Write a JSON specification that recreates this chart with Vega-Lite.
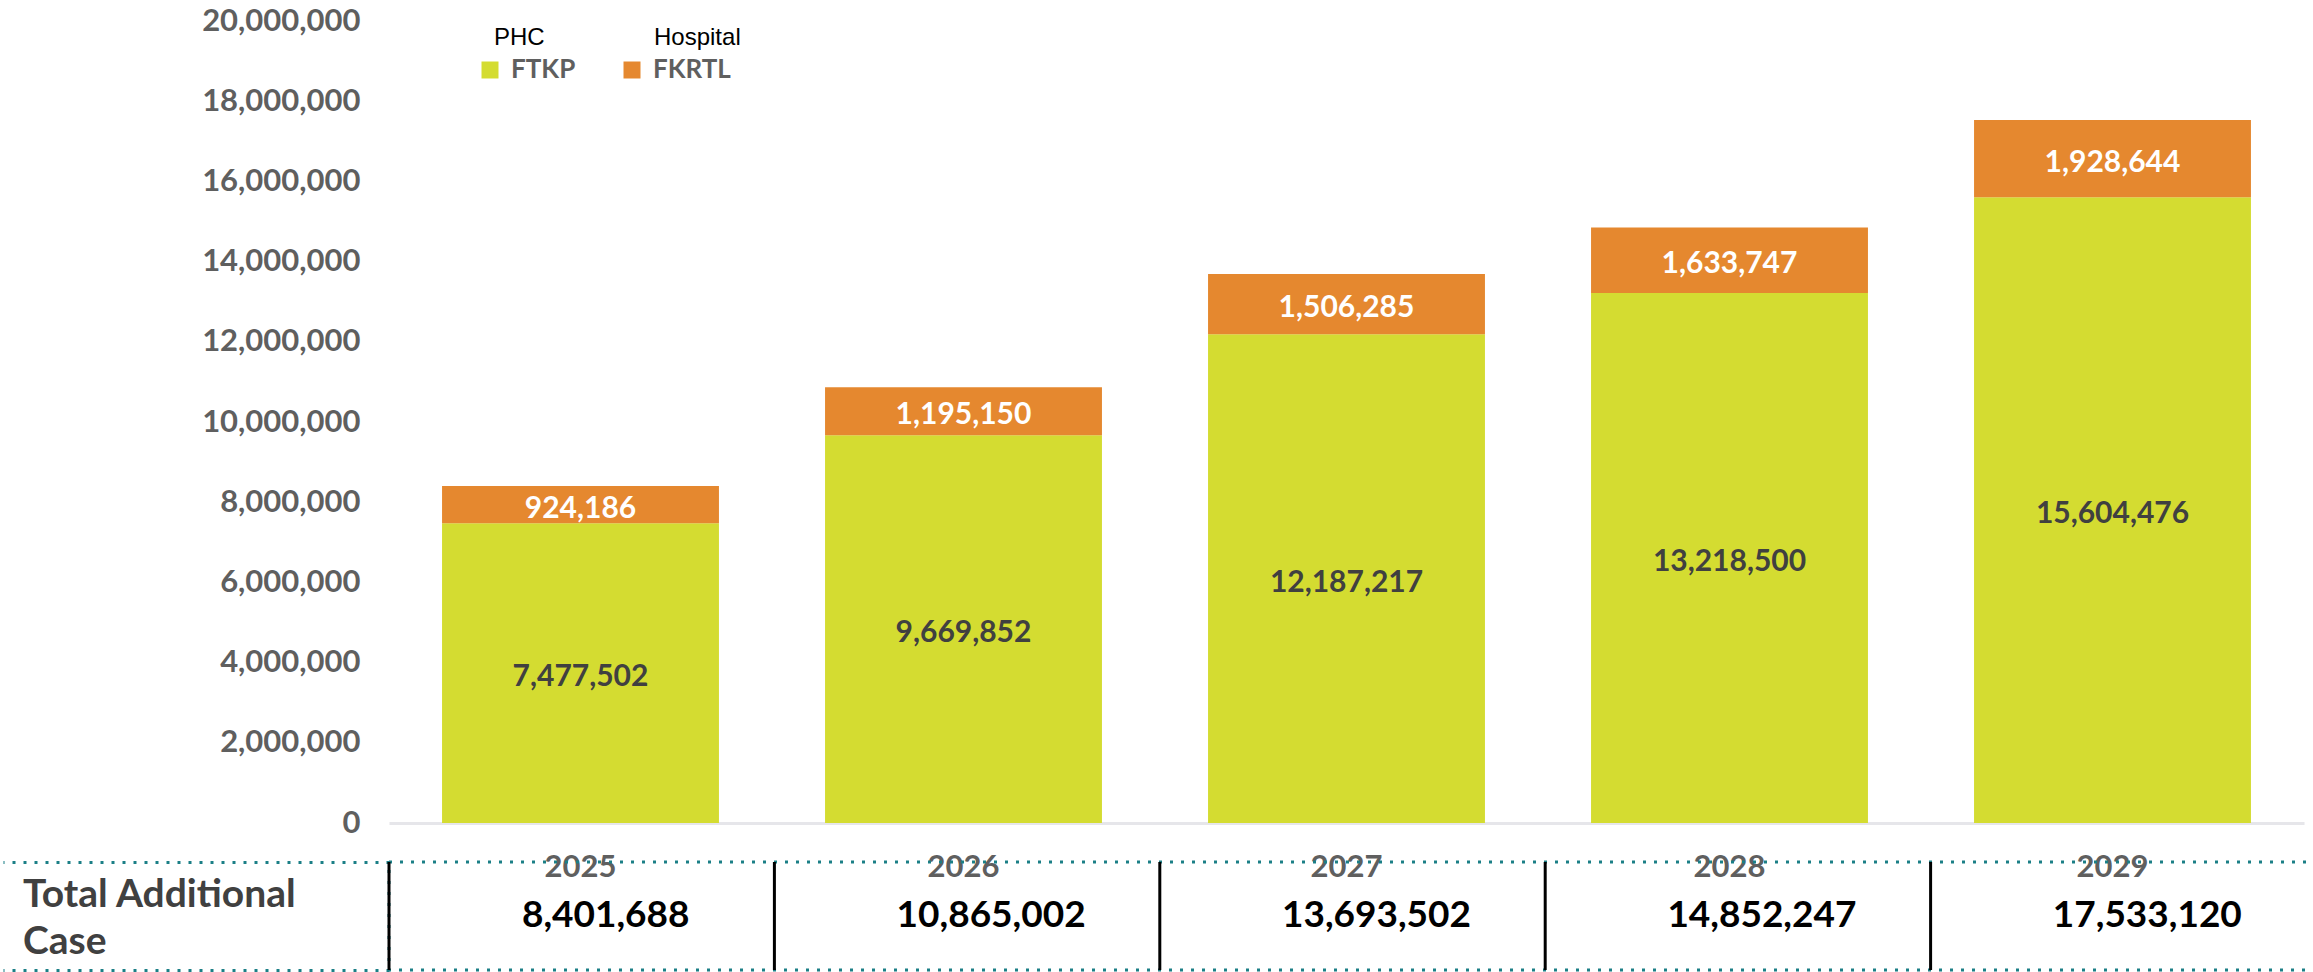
{
  "$schema": "https://vega.github.io/schema/vega-lite/v6.json",
  "padding": {"top": 5, "left": 0, "right": 0, "bottom": 0},
  "background": "white",
  "config": {"font": "Lato", "view": {"stroke": null}},
  "datasets": {
    "rows": [
      {"year": "2025", "code": "FTKP", "setting": "PHC", "value": 7477502},
      {"year": "2025", "code": "FKRTL", "setting": "Hospital", "value": 924186},
      {"year": "2026", "code": "FTKP", "setting": "PHC", "value": 9669852},
      {"year": "2026", "code": "FKRTL", "setting": "Hospital", "value": 1195150},
      {"year": "2027", "code": "FTKP", "setting": "PHC", "value": 12187217},
      {"year": "2027", "code": "FKRTL", "setting": "Hospital", "value": 1506285},
      {"year": "2028", "code": "FTKP", "setting": "PHC", "value": 13218500},
      {"year": "2028", "code": "FKRTL", "setting": "Hospital", "value": 1633747},
      {"year": "2029", "code": "FTKP", "setting": "PHC", "value": 15604476},
      {"year": "2029", "code": "FKRTL", "setting": "Hospital", "value": 1928644}
    ]
  },
  "columns": 1,
  "align": "none",
  "spacing": -23,
  "resolve": {
    "scale": {"x": "independent", "y": "independent", "color": "independent", "stroke": "independent"},
    "legend": {"color": "independent", "stroke": "independent"}
  },
  "concat": [
    {
      "width": 1915,
      "height": 802,
      "data": {"name": "rows"},
      "layer": [
        {
          "mark": {"type": "bar", "strokeWidth": 0},
          "encoding": {
            "x": {
              "field": "year", "type": "ordinal",
              "scale": {"paddingInner": 0.277, "paddingOuter": 0.1385},
              "axis": {"title": null, "labelAngle": 0, "domain": true, "domainColor": "#E6E6EA", "domainWidth": 3, "ticks": false, "tickSize": 0, "grid": false, "labelFontSize": 31, "labelFontWeight": "bold", "labelColor": "#5F5F5F", "labelPadding": 29}
            },
            "y": {
              "field": "value", "type": "quantitative", "stack": "zero", "title": null,
              "scale": {"domain": [0, 20000000], "nice": false},
              "axis": {"values": [0, 2000000, 4000000, 6000000, 8000000, 10000000, 12000000, 14000000, 16000000, 18000000, 20000000], "format": ",d", "domain": false, "ticks": false, "tickSize": 0, "grid": false, "labelFontSize": 31, "labelFontWeight": "bold", "labelColor": "#5F5F5F", "labelPadding": 29, "minExtent": 386, "maxExtent": 386}
            },
            "color": {
              "field": "code", "type": "nominal",
              "scale": {"domain": ["FTKP", "FKRTL"], "range": ["#D4DC31", "#E5882F"]},
              "legend": {"orient": "none", "legendX": 88, "legendY": 36, "direction": "horizontal", "title": null, "symbolType": "square", "symbolSize": 289, "symbolStrokeWidth": 0, "labelFontSize": 26, "labelFontWeight": "bold", "labelColor": "#5F5F5F", "labelOffset": 8, "columnPadding": 43, "padding": 0}
            },
            "stroke": {
              "field": "setting", "type": "nominal",
              "scale": {"domain": ["PHC", "Hospital"], "range": ["#D4DC31", "#E5882F"]},
              "legend": {"orient": "none", "legendX": 71, "legendY": 5, "direction": "horizontal", "title": null, "symbolType": "square", "symbolSize": 289, "symbolOpacity": 0, "symbolStrokeWidth": 0, "labelFontSize": 24, "labelFont": "Liberation Sans", "labelColor": "black", "labelOffset": 10, "columnPadding": 75, "padding": 0}
            },
            "order": {"field": "code", "sort": "descending"}
          }
        },
        {
          "transform": [
            {"stack": "value", "groupby": ["year"], "sort": [{"field": "code", "order": "descending"}], "as": ["v0", "v1"]},
            {"fold": ["v0", "v1"], "as": ["k", "pos"]},
            {"aggregate": [{"op": "mean", "field": "pos", "as": "mid"}], "groupby": ["year", "code", "value"]}
          ],
          "mark": {"type": "text", "fontSize": 30, "fontWeight": "bold", "baseline": "middle", "dy": 4},
          "encoding": {
            "x": {"field": "year", "type": "ordinal"},
            "y": {"field": "mid", "type": "quantitative", "title": null},
            "text": {"field": "value", "type": "quantitative", "format": ","},
            "color": {"condition": {"test": "datum.code === 'FKRTL'", "value": "white"}, "value": "#404040"}
          }
        }
      ]
    },
    {
      "width": 1927,
      "height": 108,
      "view": {"stroke": "#1B7F86", "strokeWidth": 3, "strokeDash": [3, 8]},
      "layer": [
        {
          "data": {"name": "rows"},
          "transform": [{"aggregate": [{"op": "sum", "field": "value", "as": "total"}], "groupby": ["year"]}],
          "mark": {"type": "rule", "color": "black", "strokeWidth": 3},
          "encoding": {
            "x": {"field": "year", "type": "nominal", "bandPosition": 0,
              "scale": {"paddingInner": 0, "paddingOuter": 0},
              "axis": null}
          }
        },
        {
          "data": {"name": "rows"},
          "transform": [{"aggregate": [{"op": "sum", "field": "value", "as": "total"}], "groupby": ["year"]}],
          "mark": {"type": "text", "fontSize": 37, "fontWeight": "bold", "color": "black", "baseline": "middle", "dx": 24},
          "encoding": {
            "x": {"field": "year", "type": "nominal"},
            "y": {"datum": "Total Additional Case", "type": "nominal",
              "scale": {"paddingInner": 0, "paddingOuter": 0},
              "axis": {"orient": "left", "title": null, "domain": false, "ticks": true, "tickBand": "extent", "tickSize": 386, "tickColor": "#1B7F86", "tickWidth": 3, "tickDash": [3, 8], "labels": false, "grid": false, "minExtent": 386, "maxExtent": 386}},
            "text": {"field": "total", "type": "quantitative", "format": ","}
          }
        },
        {
          "data": {"values": [{"label": "Total Additional Case"}]},
          "mark": {"type": "text", "align": "left", "baseline": "middle", "dx": -366, "dy": -21, "fontSize": 39, "fontWeight": "bold", "color": "#404040", "lineHeight": 47},
          "encoding": {
            "x": {"datum": "2025", "type": "nominal", "bandPosition": 0},
            "text": {"value": ["Total Additional", "Case"]}
          }
        }
      ]
    }
  ]
}
